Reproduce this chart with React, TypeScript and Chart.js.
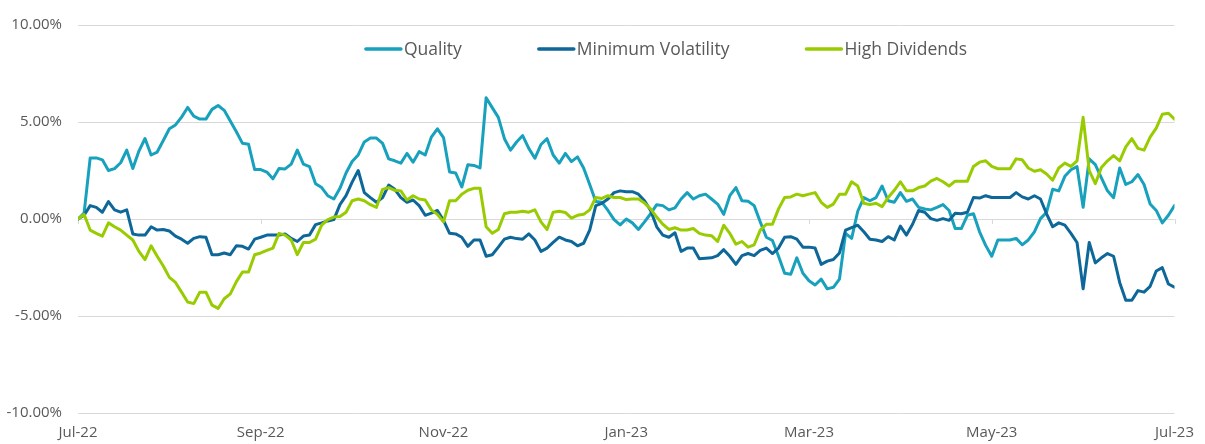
import React, { useEffect, useRef } from 'react';
import { Chart, registerables } from 'chart.js';

Chart.register(...registerables);

// ---- data ----
const monthLabels = ['Jul-22', 'Sep-22', 'Nov-22', 'Jan-23', 'Mar-23', 'May-23', 'Jul-23'];
const pointsPerLabel = 30; // samples between two month labels
const yMin = -10;
const yMax = 10;
const yStep = 5;

const seriesNames = ['Quality', 'Minimum Volatility', 'High Dividends'];
const seriesColors = ['#17a1bd', '#0d6798', '#99cc00'];

const quality = [
  0.0, 0.3, 3.15, 3.15, 3.05, 2.5, 2.6, 2.9, 3.55, 2.6,
  3.5, 4.15, 3.3, 3.45, 4.05, 4.65, 4.85, 5.25, 5.75, 5.3,
  5.15, 5.15, 5.65, 5.85, 5.6, 5.05, 4.5, 3.9, 3.85, 2.55,
  2.55, 2.42, 2.07, 2.6, 2.58, 2.83, 3.55, 2.83, 2.7, 1.82,
  1.62, 1.2, 1.03, 1.58, 2.37, 2.96, 3.3, 3.97, 4.17, 4.17,
  3.9, 3.1, 3.0, 2.88, 3.38, 2.93, 3.47, 3.3, 4.22, 4.65,
  4.2, 2.42, 2.37, 1.65, 2.8, 2.76, 2.63, 6.25, 5.74, 5.24,
  4.14, 3.55, 3.97, 4.3, 3.64, 3.13, 3.84, 4.14, 3.3, 2.88,
  3.38, 2.96, 3.2, 2.63, 1.78, 0.9, 0.86, 0.44, -0.03, -0.3,
  0.0, -0.2, -0.54, -0.15, 0.27, 0.74, 0.69, 0.47, 0.57, 1.03,
  1.36, 1.03, 1.2, 1.28, 1.03, 0.77, 0.24, 1.2, 1.62, 0.94,
  0.91, 0.69, -0.15, -0.94, -1.11, -1.92, -2.8, -2.85, -2.0, -2.8,
  -3.18, -3.4, -3.1, -3.6, -3.52, -3.1, -0.74, -1.0, 0.4, 1.1,
  0.94, 1.1, 1.7, 0.94, 0.86, 1.36, 0.91, 1.03, 0.6, 0.52,
  0.47, 0.6, 0.74, 0.44, -0.49, -0.49, 0.19, 0.27, -0.66, -1.36,
  -1.92, -1.08, -1.08, -1.08, -1.0, -1.33, -1.08, -0.66, 0.02, 0.35,
  1.53, 1.45, 2.2, 2.54, 2.7, 0.6, 3.1, 2.8, 2.12, 1.45,
  1.1, 2.63, 1.78, 1.92, 2.29, 1.78, 0.77, 0.44, -0.2, 0.19,
  0.69,
];

const minimumVolatility = [
  0.0, 0.19, 0.69, 0.6, 0.35, 0.9, 0.47, 0.35, 0.47, -0.77,
  -0.83, -0.83, -0.4, -0.57, -0.54, -0.62, -0.88, -1.04, -1.25, -1.0,
  -0.91, -0.94, -1.84, -1.84, -1.75, -1.84, -1.38, -1.41, -1.55, -1.04,
  -0.94, -0.83, -0.83, -0.83, -0.77, -1.0, -1.16, -0.88, -0.83, -0.29,
  -0.2, -0.1, -0.03, 0.74, 1.2, 1.9, 2.5, 1.36, 1.1, 0.86,
  1.1, 1.75, 1.53, 1.1, 0.86, 0.98, 0.69, 0.19, 0.3, 0.44,
  -0.07, -0.74, -0.77, -0.94, -1.41, -1.08, -1.08, -1.92, -1.84, -1.45,
  -1.04, -0.94, -1.01, -1.04, -0.77, -1.08, -1.67, -1.5, -1.21, -0.94,
  -1.08, -1.16, -1.38, -1.25, -0.57, 0.69, 0.81, 1.03, 1.36, 1.45,
  1.41, 1.41, 1.28, 0.94, 0.44, -0.4, -0.83, -0.94, -0.71, -1.67,
  -1.5, -1.5, -2.05, -2.02, -2.0, -1.89, -1.58, -1.92, -2.34, -1.89,
  -1.78, -1.89, -1.62, -1.5, -1.78, -1.5, -0.94, -0.91, -1.04, -1.45,
  -1.45, -1.5, -2.34, -2.17, -2.09, -1.75, -0.57, -0.44, -0.32, -0.66,
  -1.04, -1.08, -1.16, -0.91, -1.08, -0.37, -0.83, -0.27, 0.44, 0.35,
  0.02, -0.07, 0.02, -0.07, 0.3, 0.27, 0.35, 1.11, 1.08, 1.2,
  1.11, 1.11, 1.11, 1.11, 1.36, 1.14, 1.03, 1.2, 1.03, 0.27,
  -0.4, -0.2, -0.32, -0.74, -1.21, -3.6, -1.21, -2.26, -2.0, -1.78,
  -1.92, -3.27, -4.19, -4.19, -3.69, -3.77, -3.47, -2.68, -2.51, -3.35,
  -3.52,
];

const highDividends = [
  0.0, 0.24, -0.57, -0.74, -0.88, -0.2, -0.4, -0.57, -0.83, -1.08,
  -1.67, -2.09, -1.38, -1.92, -2.42, -3.01, -3.27, -3.77, -4.28, -4.36,
  -3.77, -3.77, -4.44, -4.61, -4.11, -3.86, -3.23, -2.73, -2.73, -1.84,
  -1.75, -1.62, -1.5, -0.74, -0.83, -1.08, -1.84, -1.21, -1.21, -1.04,
  -0.32, -0.03, 0.1, 0.13, 0.35, 0.94, 1.03, 0.94, 0.74, 0.6,
  1.53, 1.62, 1.48, 1.45, 0.98, 1.2, 1.03, 0.98, 0.47, 0.24,
  -0.15, 0.94, 0.94, 1.28, 1.48, 1.58, 1.58, -0.4, -0.74, -0.54,
  0.27, 0.35, 0.35, 0.4, 0.35, 0.47, -0.15, -0.54, 0.35, 0.4,
  0.34, 0.05, 0.19, 0.24, 0.47, 1.11, 1.06, 1.2, 1.11, 1.11,
  1.0, 1.03, 1.03, 0.82, 0.52, 0.1, -0.27, -0.54, -0.45, -0.57,
  -0.57, -0.49, -0.74, -0.83, -0.86, -1.16, -0.32, -0.74, -1.3, -1.16,
  -1.45, -1.33, -0.57, -0.27, -0.27, 0.52, 1.11, 1.14, 1.28, 1.2,
  1.28, 1.36, 0.86, 0.6, 0.77, 1.28, 1.28, 1.92, 1.7, 0.81,
  0.74, 0.81, 0.64, 1.11, 1.48, 1.92, 1.45, 1.45, 1.62, 1.7,
  1.95, 2.09, 1.92, 1.7, 1.95, 1.95, 1.95, 2.71, 2.93, 3.0,
  2.71, 2.59, 2.59, 2.59, 3.1, 3.05, 2.63, 2.46, 2.54, 2.32,
  2.0, 2.63, 2.88, 2.71, 3.0, 5.24, 2.49, 1.82, 2.66, 3.0,
  3.27, 3.0, 3.72, 4.14, 3.64, 3.55, 4.22, 4.68, 5.4, 5.45,
  5.15,
];

const seriesValues = [quality, minimumVolatility, highDividends];

// ---- styles ----
const FONT = "'Open Sans', 'Liberation Sans', sans-serif";
const TEXT_COLOR = '#595959';
const GRID_COLOR = '#d9d9d9';

const insideLegend = {
  id: 'insideLegend',
  afterDatasetsDraw(chart: any, _args: any, opts: any) {
    const ctx = chart.ctx as CanvasRenderingContext2D;
    ctx.save();
    ctx.font = `${opts.fontSize}px ${opts.family}`;
    ctx.textBaseline = 'middle';
    const items = chart.data.datasets.map((ds: any) => ({
      label: ds.label as string,
      color: ds.borderColor as string,
      w: ctx.measureText(ds.label).width,
    }));
    const total = items.reduce(
      (s: number, it: any) => s + opts.lineLength + opts.textGap + it.w,
      0
    ) + opts.itemGap * (items.length - 1);
    let x = opts.centerX - total / 2;
    const y = opts.y;
    items.forEach((it: any) => {
      ctx.strokeStyle = it.color;
      ctx.lineWidth = opts.lineWidth;
      ctx.lineCap = 'round';
      ctx.beginPath();
      ctx.moveTo(x + 1, y);
      ctx.lineTo(x + opts.lineLength - 1, y);
      ctx.stroke();
      x += opts.lineLength + opts.textGap;
      ctx.fillStyle = opts.color;
      ctx.fillText(it.label, x, y + 1);
      x += it.w + opts.itemGap;
    });
    ctx.restore();
  },
};

const zeroTicks = {
  id: 'zeroTicks',
  beforeDatasetsDraw(chart: any) {
    const xs = chart.scales.x;
    const ys = chart.scales.y;
    const ctx = chart.ctx as CanvasRenderingContext2D;
    const y0 = ys.getPixelForValue(0);
    ctx.save();
    ctx.strokeStyle = GRID_COLOR;
    ctx.lineWidth = 1;
    xs.ticks.forEach((t: any) => {
      const px = Math.round(xs.getPixelForValue(t.value)) + 0.5;
      ctx.beginPath();
      ctx.moveTo(px, y0);
      ctx.lineTo(px, y0 + 5);
      ctx.stroke();
    });
    ctx.restore();
  },
};

export default function App() {
  const canvasRef = useRef<HTMLCanvasElement | null>(null);

  useEffect(() => {
    if (!canvasRef.current) return;
    const labels = quality.map((_, i) => i);
    const chart = new Chart(canvasRef.current, {
      type: 'line',
      data: {
        labels,
        datasets: seriesNames.map((name, k) => ({
          label: name,
          data: seriesValues[k],
          borderColor: seriesColors[k],
          backgroundColor: seriesColors[k],
          borderWidth: 3,
          pointRadius: 0,
          tension: 0,
          borderJoinStyle: 'round' as const,
          borderCapStyle: 'round' as const,
          fill: false,
          order: seriesNames.length - k,
        })),
      },
      options: {
        animation: false,
        responsive: true,
        maintainAspectRatio: false,
        layout: { padding: { left: 0, right: 26, top: 17.5, bottom: 0 } },
        plugins: {
          legend: { display: false },
          tooltip: { enabled: false },
          insideLegend: {
            centerX: 666,
            y: 49,
            lineLength: 37,
            textGap: 2,
            itemGap: 76,
            lineWidth: 3.5,
            fontSize: 17.5,
            family: FONT,
            color: TEXT_COLOR,
          },
        } as any,
        scales: {
          x: {
            type: 'linear',
            min: 0,
            max: pointsPerLabel * (monthLabels.length - 1),
            grid: { display: false, drawTicks: false },
            border: { display: false },
            afterBuildTicks: (scale: any) => {
              scale.ticks = monthLabels.map((_, i) => ({ value: i * pointsPerLabel }));
            },
            afterFit: (scale: any) => {
              scale.height = 31;
            },
            ticks: {
              autoSkip: false,
              maxRotation: 0,
              padding: 11,
              color: TEXT_COLOR,
              font: { family: FONT, size: 15 },
              callback: (v: any) => monthLabels[Math.round(Number(v) / pointsPerLabel)] ?? '',
            },
          },
          y: {
            min: yMin,
            max: yMax,
            grid: { color: GRID_COLOR, lineWidth: 1, drawTicks: false },
            border: { display: false },
            afterFit: (scale: any) => {
              scale.width = 78;
            },
            ticks: {
              stepSize: yStep,
              padding: 16,
              color: TEXT_COLOR,
              font: { family: FONT, size: 15 },
              callback: (v: any) => `${Number(v).toFixed(2)}%`,
            },
          },
        },
      },
      plugins: [insideLegend, zeroTicks],
    });
    return () => chart.destroy();
  }, []);

  return (
    <div style={{ position: 'absolute', left: 0, top: 0, width: 1205, height: 444 }}>
      <canvas ref={canvasRef} />
    </div>
  );
}
